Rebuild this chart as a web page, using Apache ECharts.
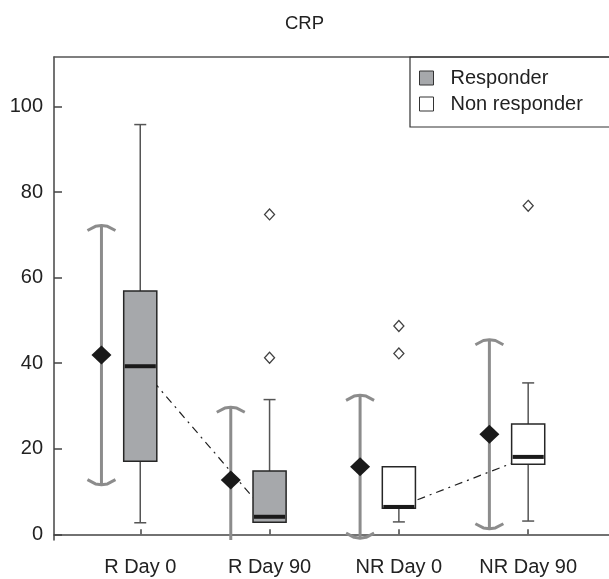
<!DOCTYPE html>
<html>
<head>
<meta charset="utf-8">
<script src="https://cdn.jsdelivr.net/npm/echarts@6/dist/echarts.min.js"></script>
<style>
  html, body { margin: 0; padding: 0; background: #fff; }
  #main { width: 609px; height: 579px; }
</style>
</head>
<body>
<div id="main"></div>
<script>
// CRP values
const categories = ['R Day 0', 'R Day 90', 'NR Day 0', 'NR Day 90'];
const groupOf = [0, 0, 1, 1];
const groupNames = ['Responder', 'Non responder'];
const groupFill = ['#a6a8ab', '#ffffff'];

const whiskerLow = [2.7, 2.8, 2.9, 3.1];
const quartile1 = [17.1, 2.8, 6.1, 16.4];
const medians = [39.3, 4.1, 6.4, 18.1];
const quartile3 = [56.9, 14.8, 15.8, 25.8];
const whiskerHigh = [95.8, 31.5, 15.8, 35.4];

const means = [41.9, 12.7, 15.8, 23.4];
const sds = [30.3, 17.0, 16.7, 22.1];

const outlierCat = [1, 1, 2, 2, 3];
const outlierVal = [74.8, 41.3, 48.7, 42.3, 76.8];

const yTicks = [0, 20, 40, 60, 80, 100];
const xTicks = [1, 2, 3, 4];

const font = 'Liberation Sans, Arial, Helvetica, sans-serif';

let chartDom = document.getElementById('main');
let myChart = echarts.init(chartDom);

function renderBox(params, api) {
  const x = api.value(0);
  const lo = api.value(1), q1 = api.value(2), med = api.value(3);
  const q3 = api.value(4), hi = api.value(5);
  const mean = api.value(6), sd = api.value(7);
  const unit = api.size([1, 0])[0];
  const cs = params.coordSys;
  const bottom = cs.y + cs.height;
  const cx = api.coord([x, 0])[0];
  const sx = cx - 0.3 * unit;
  const y = v => api.coord([x, v])[1];
  const half = 0.128 * unit;
  const cap = 6;
  const fill = api.visual('color');
  const sdStyle = { stroke: '#8c8c8c', lineWidth: 3, fill: null, lineJoin: 'round' };
  const wStyle = { stroke: '#555', lineWidth: 1.5 };
  const children = [];

  // mean +/- sd bar
  const sdTop = y(mean + sd);
  const sdBotRaw = y(mean - sd);
  const sdBot = Math.min(sdBotRaw, bottom);
  children.push({ type: 'line', shape: { x1: sx, y1: sdTop, x2: sx, y2: sdBot }, style: sdStyle });
  children.push({ type: 'polyline',
    shape: { points: [[sx - 14, sdTop + 5], [sx - 6, sdTop + 0.8], [sx, sdTop], [sx + 6, sdTop + 0.8], [sx + 14, sdTop + 5]] },
    style: sdStyle });
  if (sdBotRaw <= bottom) {
    children.push({ type: 'polyline',
      shape: { points: [[sx - 14, sdBot - 5], [sx - 6, sdBot - 0.8], [sx, sdBot], [sx + 6, sdBot - 0.8], [sx + 14, sdBot - 5]] },
      style: sdStyle });
  }

  // whiskers
  if (hi > q3) {
    children.push({ type: 'line', shape: { x1: cx, y1: y(hi), x2: cx, y2: y(q3) }, style: wStyle });
    children.push({ type: 'line', shape: { x1: cx - cap, y1: y(hi), x2: cx + cap, y2: y(hi) }, style: wStyle });
  }
  if (lo < q1) {
    children.push({ type: 'line', shape: { x1: cx, y1: y(q1), x2: cx, y2: y(lo) }, style: wStyle });
    children.push({ type: 'line', shape: { x1: cx - cap, y1: y(lo), x2: cx + cap, y2: y(lo) }, style: wStyle });
  }

  // box
  children.push({ type: 'rect',
    shape: { x: cx - half, y: y(q3), width: 2 * half, height: y(q1) - y(q3) },
    style: { fill: fill, stroke: '#262626', lineWidth: 1.5 } });
  children.push({ type: 'line',
    shape: { x1: cx - half + 1, y1: y(med), x2: cx + half - 1, y2: y(med) },
    style: { stroke: '#1a1a1a', lineWidth: 4 } });

  // mean marker
  const ym = y(mean);
  children.push({ type: 'polygon',
    shape: { points: [[sx, ym - 9.5], [sx + 10, ym], [sx, ym + 9.5], [sx - 10, ym]] },
    style: { fill: '#1a1a1a' } });

  return { type: 'group', children: children };
}

function groupData(g) {
  const out = [];
  categories.forEach((c, i) => {
    if (groupOf[i] === g) {
      out.push([i + 1, whiskerLow[i], quartile1[i], medians[i], quartile3[i], whiskerHigh[i], means[i], sds[i]]);
    }
  });
  return out;
}

function medianLine(g) {
  const out = [];
  categories.forEach((c, i) => { if (groupOf[i] === g) out.push([i + 1, medians[i]]); });
  return out;
}

const option = {
  animation: false,
  title: {
    text: 'CRP', left: 'center', top: 9,
    textStyle: { fontSize: 18.5, fontWeight: 'normal', color: '#222', fontFamily: font }
  },
  legend: {
    data: [
      { name: groupNames[0], icon: 'rect', itemStyle: { color: groupFill[0], borderColor: '#333', borderWidth: 1 } },
      { name: groupNames[1], icon: 'rect', itemStyle: { color: groupFill[1], borderColor: '#333', borderWidth: 1 } }
    ],
    orient: 'vertical', left: 410, top: 57,
    itemWidth: 14, itemHeight: 14, itemGap: 6,
    padding: [11, 40, 13, 9],
    borderColor: '#333', borderWidth: 1.2,
    selectedMode: false,
    textStyle: { fontSize: 20, color: '#222', fontFamily: font, lineHeight: 20, padding: [0, 0, 0, 12] }
  },
  grid: { left: 54, right: 0, top: 57, bottom: 39 },
  xAxis: [{
    type: 'value', min: 0.333, max: 4.625,
    axisLine: { lineStyle: { color: '#444', width: 1.5 } },
    axisTick: { customValues: xTicks, inside: true, length: 5, lineStyle: { color: '#444', width: 1.5 } },
    axisLabel: {
      customValues: xTicks, margin: 17, fontSize: 20, color: '#222', fontFamily: font,
      formatter: v => categories[Math.round(v) - 1]
    },
    splitLine: { show: false }
  }, {
    type: 'value', position: 'top', min: 0.333, max: 4.625,
    axisLine: { show: true, lineStyle: { color: '#555', width: 1.5 } },
    axisTick: { show: false }, axisLabel: { show: false }, splitLine: { show: false }
  }],
  yAxis: {
    type: 'value', min: -1.33, max: 111.6,
    axisLine: { show: true, lineStyle: { color: '#444', width: 1.5 } },
    axisTick: { show: true, customValues: yTicks, inside: true, length: 8, lineStyle: { color: '#444', width: 1.5 } },
    axisLabel: { customValues: yTicks, margin: 11, fontSize: 20, color: '#222', fontFamily: font },
    splitLine: { show: false }
  },
  series: [
    {
      name: 'medR', type: 'line', data: medianLine(0), z: 1, symbol: 'none',
      lineStyle: { color: '#222', width: 1.2, type: [8, 5, 2, 5] }
    },
    {
      name: 'medNR', type: 'line', data: medianLine(1), z: 1, symbol: 'none',
      lineStyle: { color: '#222', width: 1.2, type: [8, 5, 2, 5] }
    },
    {
      name: groupNames[0], type: 'custom', renderItem: renderBox, z: 2,
      itemStyle: { color: groupFill[0] },
      encode: { x: 0, y: [1, 2, 3, 4, 5] },
      data: groupData(0)
    },
    {
      name: groupNames[1], type: 'custom', renderItem: renderBox, z: 2,
      itemStyle: { color: groupFill[1] },
      encode: { x: 0, y: [1, 2, 3, 4, 5] },
      data: groupData(1)
    },
    {
      name: 'outliers', type: 'scatter', z: 3,
      symbol: 'diamond', symbolSize: [10, 11],
      itemStyle: { color: '#fff', borderColor: '#111', borderWidth: 1.3 },
      data: outlierVal.map((v, i) => [outlierCat[i] + 1, v])
    }
  ]
};

option && myChart.setOption(option);
</script>
</body>
</html>
